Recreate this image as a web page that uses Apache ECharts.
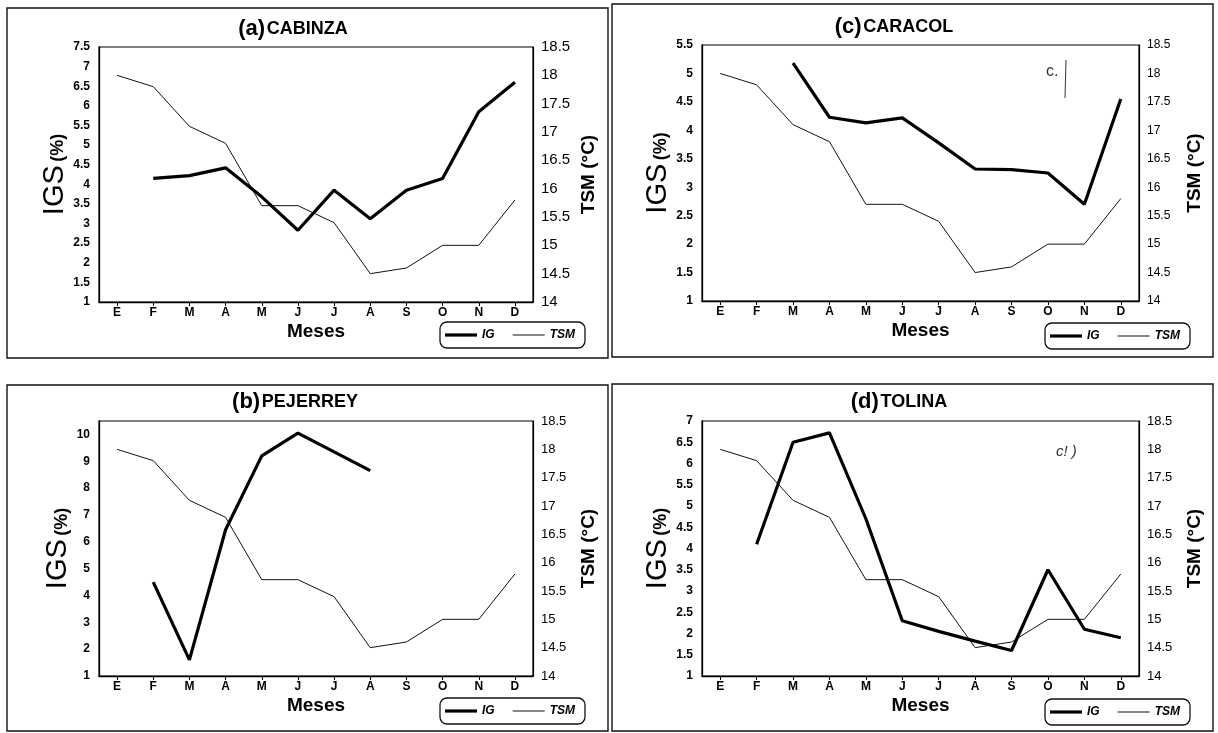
<!DOCTYPE html>
<html>
<head>
<meta charset="utf-8">
<script src="https://cdn.jsdelivr.net/npm/echarts@6/dist/echarts.min.js"></script>
<style>
  html, body { margin: 0; padding: 0; background: #fff; }
  #chart { width: 1218px; height: 733px; }
</style>
</head>
<body>
<div id="chart"></div>
<script>
// Months (Spanish initials)
const months = ['E', 'F', 'M', 'A', 'M', 'J', 'J', 'A', 'S', 'O', 'N', 'D'];

// Sea surface temperature (°C), right axis of every panel
const tsm = [18.0, 17.8, 17.1, 16.8, 15.7, 15.7, 15.4, 14.5, 14.6, 15.0, 15.0, 15.8];

// Gonadosomatic index (%) per species, null = no sample
const igCabinza  = [null, 4.15, 4.22, 4.42, 3.68, 2.83, 3.85, 3.12, 3.85, 4.15, 5.85, 6.6];
const igCaracol  = [null, null, 5.18, 4.23, 4.13, 4.22, 3.78, 3.32, 3.31, 3.25, 2.7, 4.55];
const igPejerrey = [null, 4.5, 1.6, 6.45, 9.2, 10.05, 9.35, 8.65, null, null, null, null];
const igTolina   = [null, 4.1, 6.5, 6.72, 4.7, 2.3, 2.05, 1.82, 1.6, 3.5, 2.1, 1.9];

// Left axis ranges
const igMin = [1, 1, 1, 1];
const igMax = [7.5, 5.5, 10.5, 7];
const igStep = [0.5, 0.5, 1, 0.5];

// Right axis range
const tsmMin = 14, tsmMax = 18.5, tsmStep = 0.5;

const panelTags = ['(a)', '(c)', '(b)', '(d)'];
const panelNames = ['CABINZA', 'CARACOL', 'PEJERREY', 'TOLINA'];
const igSeries = [igCabinza, igCaracol, igPejerrey, igTolina];

// Layout of the four panels
const layout = [
  { grid: { left: 99, top: 47, width: 434, height: 255 }, title: [288, 13], legend: [440, 322], rightFont: 15 },
  { grid: { left: 702, top: 45, width: 437, height: 256 }, title: [889, 11], legend: [1045, 323], rightFont: 12 },
  { grid: { left: 99, top: 421, width: 434, height: 255 }, title: [290, 386], legend: [440, 698], rightFont: 13 },
  { grid: { left: 702, top: 421, width: 437, height: 255 }, title: [894, 386], legend: [1045, 699], rightFont: 13 }
];

const NARROW = "'Liberation Sans Narrow', 'Arial Narrow', 'Liberation Sans', Arial, sans-serif";
const REG = "'Liberation Sans', Arial, sans-serif";

// Legend keys: plain strokes, thick for IG and thin for TSM
const thickKey = 'path://M0,0H32V3.2H0Z';
const thinKey = 'path://M0,0H32V1H0Z';

const grids = [], xAxes = [], yAxes = [], series = [], titles = [], legends = [];

layout.forEach((L, i) => {
  grids.push(Object.assign({ show: true, borderColor: '#000', borderWidth: 1.2, backgroundColor: 'transparent' }, L.grid));

  xAxes.push({
    type: 'category', gridIndex: i, data: months, boundaryGap: true,
    name: 'Meses', nameLocation: 'middle', nameGap: 20,
    nameTextStyle: { fontFamily: NARROW, fontWeight: 'bold', fontSize: 19, color: '#000' },
    axisLine: { show: true, lineStyle: { color: '#000', width: 1.3 } },
    axisTick: { show: true, alignWithLabel: true, length: 4, lineStyle: { color: '#000', width: 1 } },
    axisLabel: { fontFamily: NARROW, fontWeight: 'bold', fontSize: 12, color: '#000', margin: 5 },
    splitLine: { show: false }
  });

  yAxes.push({
    type: 'value', gridIndex: i, position: 'left',
    min: igMin[i], max: igMax[i], interval: igStep[i],
    name: '{big|IGS} {small|(%)}', nameLocation: 'middle', nameGap: 24, nameRotate: 90,
    nameTextStyle: {
      color: '#000',
      rich: {
        big: { fontFamily: REG, fontSize: 29, color: '#000', verticalAlign: 'bottom' },
        small: { fontFamily: NARROW, fontWeight: 'bold', fontSize: 18, color: '#000', verticalAlign: 'bottom', padding: [0, 0, 2, 0] }
      }
    },
    axisLine: { show: true, lineStyle: { color: '#000', width: 1.3 } },
    axisTick: { show: false },
    axisLabel: { fontFamily: NARROW, fontWeight: 'bold', fontSize: 12, color: '#000', margin: 9, showMaxLabel: igMax[i] % igStep[i] === 0 },
    splitLine: { show: false }
  });

  yAxes.push({
    type: 'value', gridIndex: i, position: 'right',
    min: tsmMin, max: tsmMax, interval: tsmStep,
    name: 'TSM (°C)', nameLocation: 'middle', nameGap: 46, nameRotate: 90,
    nameTextStyle: { fontFamily: NARROW, fontWeight: 'bold', fontSize: 19, color: '#000' },
    axisLine: { show: true, lineStyle: { color: '#000', width: 1.2 } },
    axisTick: { show: false },
    axisLabel: { fontFamily: NARROW, fontSize: L.rightFont, color: '#000', margin: 8 },
    splitLine: { show: false }
  });

  series.push({
    name: 'TSM', type: 'line', xAxisIndex: i, yAxisIndex: 2 * i + 1,
    data: tsm, symbol: 'none', silent: true, z: 2,
    lineStyle: { color: '#111', width: 1 }, itemStyle: { color: '#111' }
  });
  series.push({
    name: 'IG', type: 'line', xAxisIndex: i, yAxisIndex: 2 * i,
    data: igSeries[i], symbol: 'none', silent: true, z: 3,
    lineStyle: { color: '#000', width: 3.2 }, itemStyle: { color: '#000' }
  });

  titles.push({
    text: '{tag|' + panelTags[i] + '}{sp| }{nm|' + panelNames[i] + '}',
    left: L.title[0], top: L.title[1], textAlign: 'center',
    textStyle: {
      rich: {
        tag: { fontFamily: REG, fontSize: 22, color: '#000', verticalAlign: 'bottom' },
        sp: { fontSize: 6 },
        nm: { fontFamily: NARROW, fontWeight: 'bold', fontSize: 18, color: '#000', verticalAlign: 'bottom', padding: [0, 0, 2, 0] }
      }
    }
  });

  legends.push({
    data: [
      { name: 'IG', icon: thickKey, itemStyle: { color: '#000', borderWidth: 0 } },
      { name: 'TSM', icon: thinKey, itemStyle: { color: '#111', borderWidth: 0 } }
    ],
    left: L.legend[0], top: L.legend[1], orient: 'horizontal',
    itemWidth: 32, itemHeight: 10, itemGap: 18, symbolKeepAspect: true,
    padding: [7, 10, 7, 5],
    borderColor: '#111', borderWidth: 1.3, borderRadius: 7,
    selectedMode: false,
    textStyle: { fontFamily: NARROW, fontStyle: 'italic', fontWeight: 'bold', fontSize: 12, color: '#000' }
  });
});

// Panel frames and small handwritten marks
const frames = [
  [7, 8, 601, 350], [612, 4, 601, 353], [7, 385, 601, 346], [612, 384, 601, 347]
];
const graphic = frames.map(f => ({
  type: 'rect', silent: true, z: -1,
  shape: { x: f[0], y: f[1], width: f[2], height: f[3] },
  style: { fill: 'none', stroke: '#111', lineWidth: 1.4 }
}));
graphic.push({ type: 'text', silent: true, left: 1046, top: 64, style: { text: 'c.', font: '16px ' + REG, fill: '#333' } });
graphic.push({ type: 'line', silent: true, shape: { x1: 1066, y1: 60, x2: 1065, y2: 98 }, style: { stroke: '#333', lineWidth: 1 } });
graphic.push({ type: 'text', silent: true, left: 1056, top: 444, style: { text: 'c! )', font: 'italic 15px ' + REG, fill: '#333' } });

const chart = echarts.init(document.getElementById('chart'), null, { renderer: 'canvas' });
chart.setOption({
  animation: false,
  backgroundColor: '#fff',
  title: titles,
  legend: legends,
  grid: grids,
  xAxis: xAxes,
  yAxis: yAxes,
  series: series,
  graphic: graphic
});
</script>
</body>
</html>
